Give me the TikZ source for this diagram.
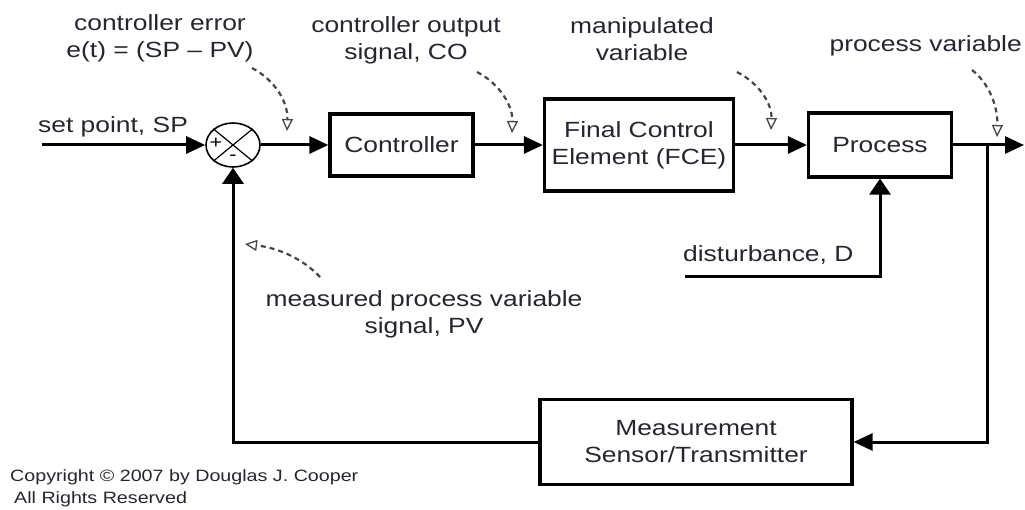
\documentclass[tikz,border=0pt]{standalone}
\usepackage{fontspec}
\setmainfont{Liberation Sans}[FakeStretch=1.2]
\usetikzlibrary{arrows.meta,shapes.geometric}
\definecolor{txt}{RGB}{38,38,48}
\definecolor{dsh}{RGB}{70,70,70}
\begin{document}
\begin{tikzpicture}[x=1pt,y=-1pt,
  blk/.style={draw=black,line width=3.2pt,minimum width=#1,inner sep=0pt,text=txt,align=center,
              font=\fontsize{22}{27}\selectfont},
  wire/.style={line width=3pt,-{Triangle[length=19pt,width=17pt]}},
  vwire/.style={line width=3pt,-{Triangle[length=16pt,width=21pt]}},
  dcurve/.style={draw=dsh,line width=2.2pt,dash pattern=on 5pt off 4pt,
                 -{Triangle[open,length=12pt,width=11pt,line width=1.3pt]}},
  lbl/.style={inner sep=0pt,text=txt,align=center,font=\fontsize{22}{27}\selectfont}]
\fill[white] (0,0) rectangle (1025,510);
\useasboundingbox (0,0) rectangle (1025,510);

% blocks
\node[ellipse,draw=black,line width=1.6pt,minimum width=54pt,minimum height=44pt,inner sep=0pt] (sum) at (233,145) {};
\draw[line width=1.2pt] (sum.north east) -- (sum.south west) (sum.north west) -- (sum.south east);
\node[inner sep=0pt,font=\fontsize{18}{18}\selectfont] (plus) at (216,143) {+};
\node[inner sep=0pt,font=\fontsize{18}{18}\selectfont] (minus) at (233,158) {-};

\node[blk=143pt,minimum height=62pt] (ctrl) at (401.5,145) {Controller};
\node[blk=189pt,minimum height=92pt] (fce) at (639,145) {Final Control\\Element (FCE)};
\node[blk=143pt,minimum height=64pt] (proc) at (880,145) {Process};
\node[blk=312pt,minimum height=85pt] (meas) at (696,442) {Measurement\\Sensor/Transmitter};

% connectors
\coordinate (spin) at (42,145);
\coordinate (out) at (1024,145);
\coordinate (br) at (987,145);
\coordinate (dst) at (685,277);
\draw[wire] (spin) -- (sum.west);
\draw[wire] (sum.east) -- (ctrl.west);
\draw[wire] (ctrl.east) -- (fce.west);
\draw[wire] (fce.east) -- (proc.west);
\draw[wire] (proc.east) -- (out);
\draw[wire] (br) |- (meas.east);
\draw[vwire] (meas.west) -| (sum.south);
\draw[vwire] (dst) -| (proc.south);

% labels (base anchor = baseline of the last line)
\node[lbl,anchor=base west] (lsp) at (38,133) {set point, SP};
\node[lbl,anchor=base] (lerr) at (160,58) {controller error\\e(t) = (SP – PV)};
\node[lbl,anchor=base] (lco) at (406,60) {controller output\\signal, CO};
\node[lbl,anchor=base] (lmv) at (642,61) {manipulated\\variable};
\node[lbl,anchor=base east] (lpv) at (1022,52) {process variable};
\node[lbl,anchor=base west] (ldist) at (683,262) {disturbance, D};
\node[lbl,anchor=base] (lmpv) at (424,334) {measured process variable\\signal, PV};
\node[lbl,anchor=base west,align=left,font=\fontsize{16.4}{22}\selectfont] (lcopy) at (10,503)
  {Copyright © 2007 by Douglas J. Cooper\\\hspace*{4pt}All Rights Reserved};

% dashed pointer curves
\coordinate (a1) at (252,68);  \coordinate (b1) at (287,131);
\coordinate (a2) at (477,72);  \coordinate (b2) at (512,133);
\coordinate (a3) at (737,72);  \coordinate (b3) at (771,130);
\coordinate (a4) at (972,70);  \coordinate (b4) at (997,137);
\coordinate (a5) at (320,277); \coordinate (b5) at (245,244);
\draw[dcurve] (a1) .. controls (275,80) and (288,102) .. (b1);
\draw[dcurve] (a2) .. controls (500,84) and (513,106) .. (b2);
\draw[dcurve] (a3) .. controls (760,84) and (772,104) .. (b3);
\draw[dcurve] (a4) .. controls (990,84) and (998,108) .. (b4);
\draw[dcurve] (a5) .. controls (302,258) and (278,248) .. (b5);
\end{tikzpicture}
\end{document}
